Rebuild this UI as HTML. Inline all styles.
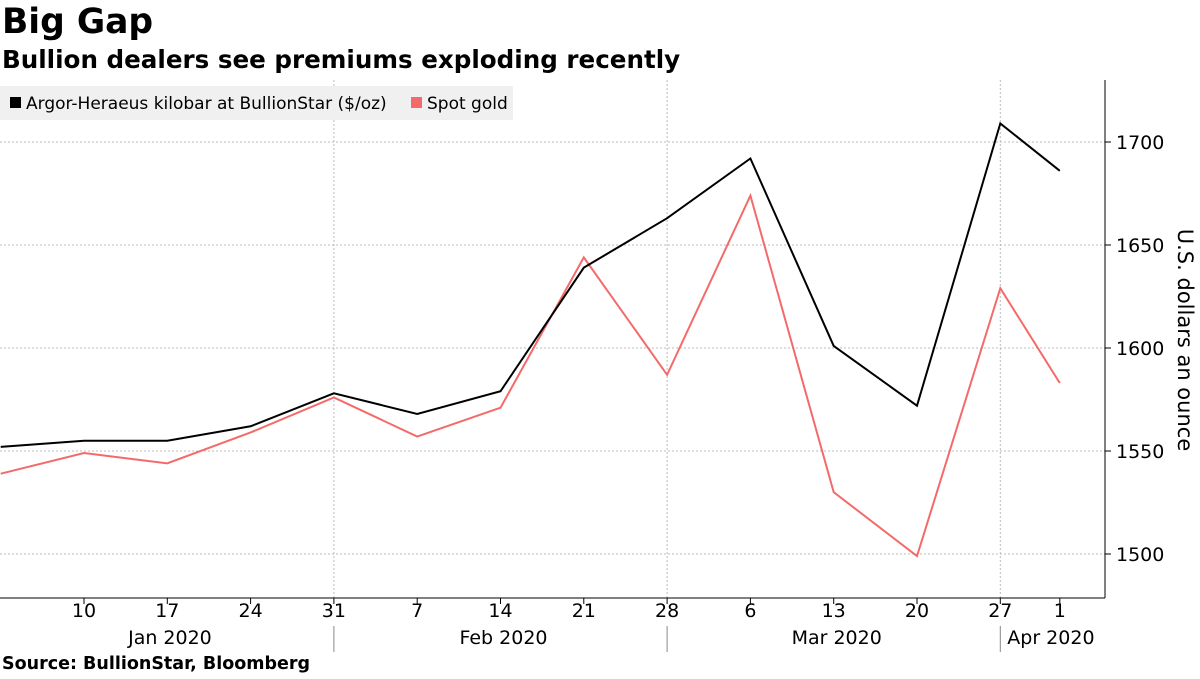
<!DOCTYPE html>
<html><head><meta charset="utf-8"><style>
body{margin:0;background:#fff;width:1200px;height:675px;overflow:hidden;font-family:"DejaVu Sans",sans-serif}
</style></head><body>
<svg width="1200" height="675" font-family="DejaVu Sans, sans-serif">
<text x="2" y="33" font-size="34.5" font-weight="bold">Big Gap</text>
<text x="2" y="68" font-size="24.6" font-weight="bold">Bullion dealers see premiums exploding recently</text>
<g id="grid"></g>
<g id="axes"></g>
<g id="lines"></g>
<g>
<rect x="0" y="86" width="513" height="34" fill="#f0f0f0"/>
<rect x="10" y="97" width="11" height="11" fill="#000"/>
<text x="26" y="109" font-size="17">Argor-Heraeus kilobar at BullionStar ($/oz)</text>
<rect x="411" y="97" width="11" height="11" fill="#f46a6a"/>
<text x="427" y="109" font-size="17">Spot gold</text>
</g>
<text transform="translate(1178,340) rotate(90)" text-anchor="middle" font-size="21">U.S. dollars an ounce</text>
<text x="2" y="669" font-size="17.5" font-weight="bold">Source: BullionStar, Bloomberg</text>
</svg>
<script>
const dayOffsets=[0,7,14,21,28,35,42,49,56,63,70,77,84,89];
const tickLabels=["10","17","24","31","7","14","21","28","6","13","20","27","1"];
const bullion=[1552,1555,1555,1562,1578,1568,1579,1639,1663,1692,1601,1572,1709,1686];
const spot=[1539,1549,1544,1559,1576,1557,1571,1644,1587,1674,1530,1499,1629,1583];
const yTicks=[1500,1550,1600,1650,1700];
const months=[{label:"Jan 2020",start:-2,end:28},{label:"Feb 2020",start:28,end:56},{label:"Mar 2020",start:56,end:84},{label:"Apr 2020",start:84,end:92}];
const NS="http://www.w3.org/2000/svg";
const xs=d=>0.7+d*11.9;
const ys=v=>142+(1700-v)*2.06;
function mk(tag,attrs,parent){const e=document.createElementNS(NS,tag);for(const k in attrs)e.setAttribute(k,attrs[k]);document.getElementById(parent).appendChild(e);return e;}
yTicks.forEach(v=>{
 const l=mk('line',{x1:0,x2:1105,y1:ys(v),y2:ys(v),stroke:'#bbb','stroke-dasharray':'2,2'},'grid');
 
 
 mk('line',{x1:1105,x2:1111,y1:ys(v),y2:ys(v),stroke:'#000'},'axes');
 const t=mk('text',{x:1116,y:ys(v)+7,'font-size':19},'axes');t.textContent=v;
 
 
});
tickLabels.forEach((lab,i)=>{
 const x=xs(dayOffsets[i+1]);
 mk('line',{x1:x,x2:x,y1:598,y2:604,stroke:'#000'},'axes');
 const t=mk('text',{x:x,y:617,'font-size':19,'text-anchor':'middle'},'axes');t.textContent=lab;
 
 
});
mk('line',{x1:1105,x2:1105,y1:80,y2:598,stroke:'#000'},'axes');
mk('line',{x1:0,x2:1105,y1:598,y2:598,stroke:'#000'},'axes');
months.forEach((m,i)=>{
 if(i>0){
  const x=xs(m.start);
  const g=mk('line',{x1:x,x2:x,y1:80,y2:598,stroke:'#bbb','stroke-dasharray':'2,2'},'grid');
  
  
  mk('line',{x1:x,x2:x,y1:626,y2:652,stroke:'#888'},'axes');
 }
 const a=Math.max(0,xs(m.start)),b=Math.min(1105,xs(m.end));
 const t=mk('text',{x:(a+b)/2+3,y:644,'font-size':19,'text-anchor':'middle'},'axes');t.textContent=m.label;
 
 
});
function line(vals,color,name){
 const p=mk('polyline',{points:vals.map((v,i)=>xs(dayOffsets[i])+','+ys(v)).join(' '),fill:'none',stroke:color,'stroke-width':2},'lines');
 
 
}
line(spot,'#f46a6a','spot-gold-line');
line(bullion,'#000','kilobar-line');
</script>
</body></html>
